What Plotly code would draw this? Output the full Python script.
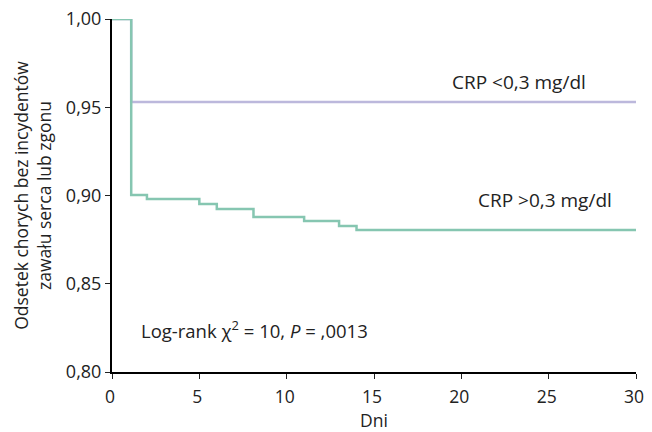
import plotly.graph_objects as go

# Kaplan-Meier step data
days_high = [0, 1.1, 2.0, 5.0, 6.0, 8.1, 11.0, 13.0, 14.0, 30]
surv_high = [1.000, 0.9003, 0.8980, 0.8952, 0.8924, 0.8878, 0.8855, 0.8827, 0.8805, 0.8805]
days_low = [0, 1.1, 30]
surv_low = [1.000, 0.953, 0.953]

x_ticks = [0, 5, 10, 15, 20, 25, 30]
y_ticks = [0.80, 0.85, 0.90, 0.95, 1.00]
y_tick_labels = ["0,80", "0,85", "0,90", "0,95", "1,00"]

font_family = "Open Sans, Noto Sans, sans-serif"

fig = go.Figure()
fig.add_trace(go.Scatter(x=days_low, y=surv_low, mode="lines", line=dict(shape="hv", color="#bcb8dc", width=2.5),
                         cliponaxis=False, showlegend=False))
fig.add_trace(go.Scatter(x=days_high, y=surv_high, mode="lines", line=dict(shape="hv", color="#86c6b1", width=2.5),
                         cliponaxis=False, showlegend=False))

fig.add_annotation(x=23.3, y=0.9643, text="CRP <0,3 mg/dl", showarrow=False, xanchor="center", yanchor="middle",
                   font=dict(size=19, color="#222", family=font_family))
fig.add_annotation(x=24.8, y=0.8975, text="CRP >0,3 mg/dl", showarrow=False, xanchor="center", yanchor="middle",
                   font=dict(size=19, color="#222", family=font_family))
fig.add_annotation(x=1.55, y=0.8238, text="Log-rank χ<sup>2</sup> = 10, <i>P</i> = ,0013", showarrow=False,
                   xanchor="left", yanchor="middle", font=dict(size=18.5, color="#222", family=font_family))

# page body has an 8px margin, so the figure is sized to fill the remaining window
fig.update_layout(
    width=644, height=424,
    margin=dict(l=104, r=16, t=11, b=60),
    plot_bgcolor="white", paper_bgcolor="white",
    font=dict(family=font_family, size=17, color="#222"),
    xaxis=dict(range=[0, 30], tickvals=x_ticks, ticks="outside", ticklen=5, tickcolor="#222",
               showline=True, linecolor="black", linewidth=2, showgrid=False, zeroline=False, automargin=False,
               ticklabeloverflow="allow", ticklabelstandoff=3, ticklabelshift=-2,
               title=dict(text="Dni", standoff=14, font=dict(size=17.5)), tickfont=dict(size=17.5)),
    yaxis=dict(range=[0.80, 1.00], tickvals=y_ticks, ticktext=y_tick_labels, ticks="outside", ticklen=5,
               tickcolor="#222", showline=True, linecolor="black", linewidth=2, showgrid=False, zeroline=False,
               automargin=False, ticklabeloverflow="allow",
               title=dict(text="Odsetek chorych bez incydentów<br>zawału serca lub zgonu", standoff=10,
                          font=dict(size=17.5)),
               tickfont=dict(size=18)),
)

fig.write_html("out.html")
